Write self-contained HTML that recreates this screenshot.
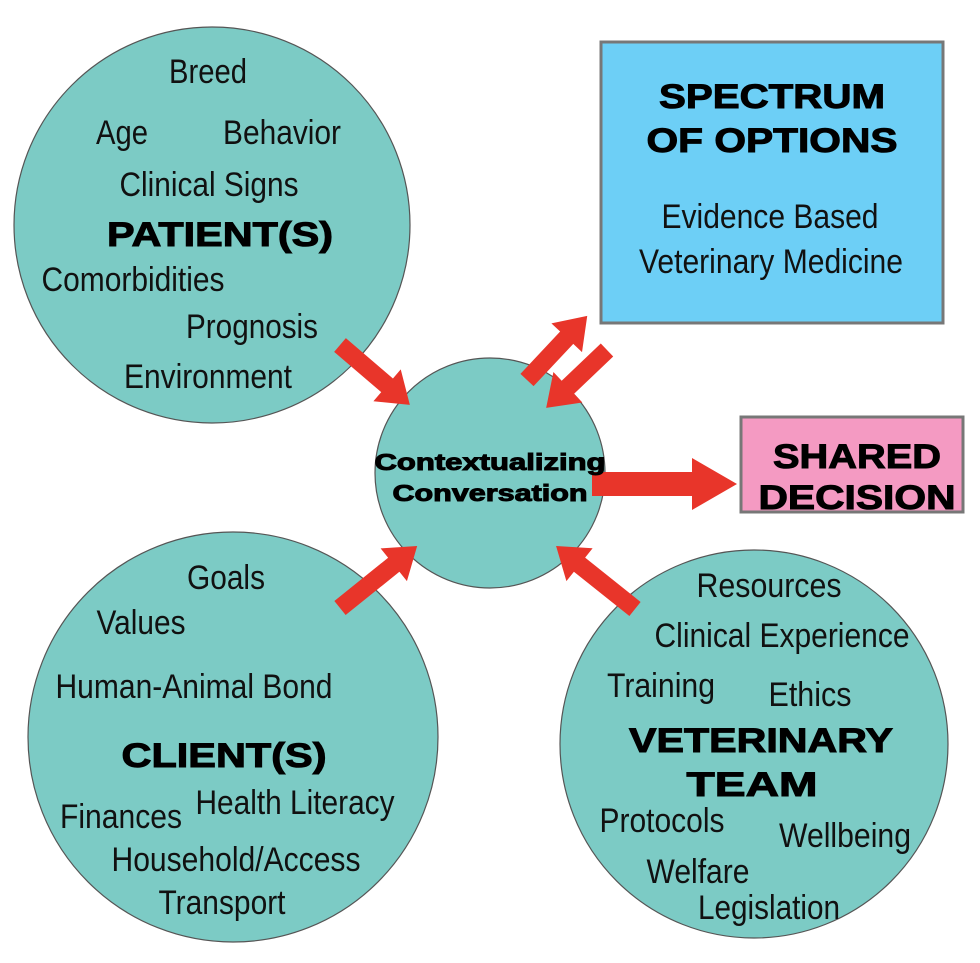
<!DOCTYPE html>
<html><head><meta charset="utf-8"><style>html,body{margin:0;padding:0;background:#fff}svg{display:block}</style></head>
<body>
<svg width="980" height="963" viewBox="0 0 980 963" xmlns="http://www.w3.org/2000/svg" font-family="Liberation Sans, Arial, sans-serif">
<g fill="#7ccbc5" stroke="#555" stroke-width="1.2">
<circle cx="212" cy="225" r="198"/>
<circle cx="233" cy="737" r="205"/>
<circle cx="754" cy="744" r="194"/>
<circle cx="490" cy="473" r="115"/>
</g>
<rect x="601" y="42" width="342" height="281" fill="#6dcff6" stroke="#777" stroke-width="3"/>
<rect x="741" y="417" width="222" height="95" fill="#f49ac2" stroke="#777" stroke-width="3"/>
<g fill="#e8352a">
<g transform="translate(340,345) rotate(40.6)"><polygon points="0,-9 62,-9 62,-21 92,0 62,21 62,9 0,9"/></g>
<g transform="translate(527,380) rotate(-46.8)"><polygon points="0,-9 58,-9 58,-21 88,0 58,21 58,9 0,9"/></g>
<g transform="translate(607,350) rotate(136.4)"><polygon points="0,-9 54,-9 54,-21 84,0 54,21 54,9 0,9"/></g>
<g transform="translate(340,608) rotate(-38.8)"><polygon points="0,-9 69,-9 69,-21 99,0 69,21 69,9 0,9"/></g>
<g transform="translate(635,609) rotate(218.6)"><polygon points="0,-9 71,-9 71,-21 101,0 71,21 71,9 0,9"/></g>
<g transform="translate(592,484)"><polygon points="0,-12 100,-12 100,-26 145,0 100,26 100,12 0,12"/></g>
</g>
<g fill="#111" font-size="34" text-anchor="middle" dominant-baseline="central" lengthAdjust="spacingAndGlyphs">
<text x="208" y="72" textLength="78" lengthAdjust="spacingAndGlyphs">Breed</text>
<text x="122" y="133" textLength="52" lengthAdjust="spacingAndGlyphs">Age</text>
<text x="282" y="133" textLength="118" lengthAdjust="spacingAndGlyphs">Behavior</text>
<text x="209" y="185" textLength="179" lengthAdjust="spacingAndGlyphs">Clinical Signs</text>
<text x="133" y="280" textLength="183" lengthAdjust="spacingAndGlyphs">Comorbidities</text>
<text x="252" y="327" textLength="132" lengthAdjust="spacingAndGlyphs">Prognosis</text>
<text x="208" y="377" textLength="168" lengthAdjust="spacingAndGlyphs">Environment</text>
<text x="226" y="578" textLength="78" lengthAdjust="spacingAndGlyphs">Goals</text>
<text x="141" y="623" textLength="89" lengthAdjust="spacingAndGlyphs">Values</text>
<text x="194" y="687" textLength="277" lengthAdjust="spacingAndGlyphs">Human-Animal Bond</text>
<text x="121" y="817" textLength="122" lengthAdjust="spacingAndGlyphs">Finances</text>
<text x="295" y="803" textLength="199" lengthAdjust="spacingAndGlyphs">Health Literacy</text>
<text x="236" y="860" textLength="249" lengthAdjust="spacingAndGlyphs">Household/Access</text>
<text x="222" y="903" textLength="127" lengthAdjust="spacingAndGlyphs">Transport</text>
<text x="769" y="586" textLength="145" lengthAdjust="spacingAndGlyphs">Resources</text>
<text x="782" y="636" textLength="255" lengthAdjust="spacingAndGlyphs">Clinical Experience</text>
<text x="661" y="686" textLength="108" lengthAdjust="spacingAndGlyphs">Training</text>
<text x="810" y="695" textLength="83" lengthAdjust="spacingAndGlyphs">Ethics</text>
<text x="662" y="821" textLength="125" lengthAdjust="spacingAndGlyphs">Protocols</text>
<text x="845" y="836" textLength="132" lengthAdjust="spacingAndGlyphs">Wellbeing</text>
<text x="698" y="872" textLength="103" lengthAdjust="spacingAndGlyphs">Welfare</text>
<text x="769" y="908" textLength="142" lengthAdjust="spacingAndGlyphs">Legislation</text>
<text x="770" y="217" textLength="217" lengthAdjust="spacingAndGlyphs">Evidence Based</text>
<text x="771" y="262" textLength="264" lengthAdjust="spacingAndGlyphs">Veterinary Medicine</text>
</g>
<g fill="#000" font-weight="bold" text-anchor="middle" dominant-baseline="central" stroke="#000" stroke-width="1">
<text x="220" y="235" font-size="34" textLength="226" lengthAdjust="spacingAndGlyphs">PATIENT(S)</text>
<text x="224" y="756" font-size="34" textLength="205" lengthAdjust="spacingAndGlyphs">CLIENT(S)</text>
<text x="761" y="741" font-size="34" textLength="264" lengthAdjust="spacingAndGlyphs">VETERINARY</text>
<text x="752" y="785" font-size="34" textLength="131" lengthAdjust="spacingAndGlyphs">TEAM</text>
<text x="772" y="97" font-size="34" textLength="226" lengthAdjust="spacingAndGlyphs">SPECTRUM</text>
<text x="772" y="141" font-size="34" textLength="251" lengthAdjust="spacingAndGlyphs">OF OPTIONS</text>
<text x="857" y="457" font-size="34" textLength="168" lengthAdjust="spacingAndGlyphs">SHARED</text>
<text x="857" y="498" font-size="34" textLength="197" lengthAdjust="spacingAndGlyphs">DECISION</text>
<text x="490" y="462" font-size="23" textLength="231" lengthAdjust="spacingAndGlyphs">Contextualizing</text>
<text x="490" y="493" font-size="23" textLength="195" lengthAdjust="spacingAndGlyphs">Conversation</text>
</g>
</svg>
</body></html>
